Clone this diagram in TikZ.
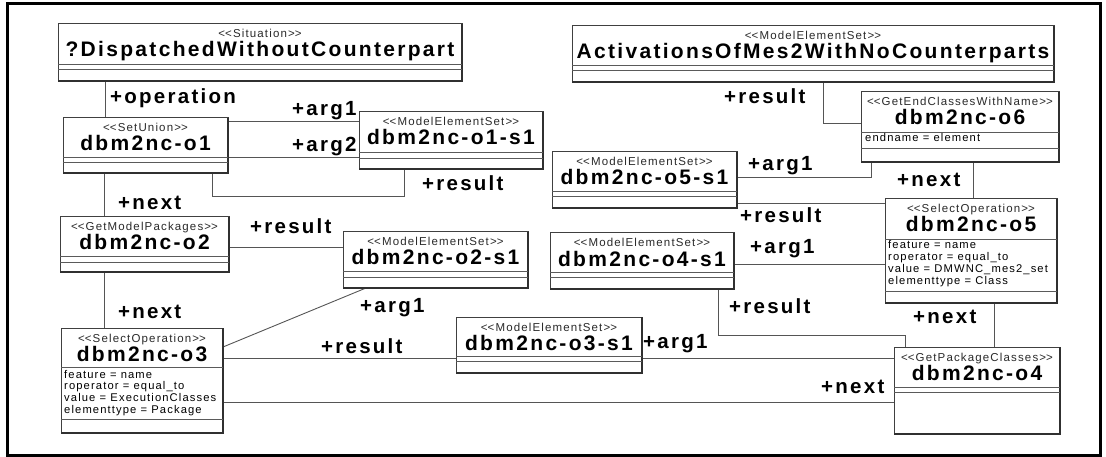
\documentclass[tikz,border=0pt]{standalone}
\usepackage{fontspec}
\setmainfont{Liberation Sans}
\newfontfamily\lsfont[LetterSpace=11]{Liberation Sans}
\newfontfamily\atfont[LetterSpace=10]{Liberation Sans}
\usetikzlibrary{calc}
\pgfdeclarelayer{background}
\pgfsetlayers{background,main}
\definecolor{boxline}{HTML}{404040}
\definecolor{shadowline}{HTML}{303030}
\definecolor{sepgray}{HTML}{5A5A5A}
\definecolor{connline}{HTML}{555555}
\definecolor{stereocol}{HTML}{2A2A2A}
\newcommand\stL{<\kern0pt<}
\newcommand\stR{>\kern0pt>}
\tikzset{
  ubox/.style={draw=boxline, line width=1pt, fill=white, inner sep=0pt, outer sep=0pt},
  ushadow/.style={draw=shadowline, line width=2pt, line join=miter},
  usepl/.style={draw=sepgray, line width=0.9pt},
  stereo/.style={font=\atfont\fontsize{11.5}{12}\selectfont, text=stereocol, inner sep=0pt},
  title/.style={font=\lsfont\bfseries\fontsize{21}{22}\selectfont, inner sep=0pt},
  attr/.style={font=\atfont\fontsize{11.2}{12}\selectfont, inner sep=0pt, anchor=base west},
  lbl/.style={font=\lsfont\bfseries\fontsize{20.5}{22}\selectfont, inner sep=0pt, anchor=base west},
  conn/.style={draw=connline, line width=0.9pt},
  frame/.style={draw=black, line width=3pt},
}
% name, x, y, w, h, stereotype, title, sep1, sep2
\newcommand\umlbox[9]{%
  \node[ubox, minimum width=#4pt, minimum height=#5pt, anchor=north west] (#1) at (#2,#3) {};
  \draw[ushadow] (#1.north east) -- (#1.south east) -- (#1.south west);
  \node[stereo, anchor=base] (#1-st) at ($(#1.north)+(0,14)$) {#6};
  \node[title, anchor=base] (#1-nm) at ($(#1.north)+(0,33)$) {#7};
  \draw[usepl] ($(#1.north west)+(0,#8)$) -- ($(#1.north east)+(0,#8)$);
  \draw[usepl] ($(#1.north west)+(0,#9)$) -- ($(#1.north east)+(0,#9)$);
}
\begin{document}
\begin{tikzpicture}[x=1pt,y=-1pt]
\useasboundingbox (0,0) rectangle (1106,457);
\draw[frame] (7,4) rectangle (1100,455);

\umlbox{sit}{58}{24}{404}{57}{\stL Situation\stR}{?DispatchedWithoutCounterpart}{40}{45}
\umlbox{act}{572}{26}{482}{56}{\stL ModelElementSet\stR}{ActivationsOfMes2WithNoCounterparts}{39}{44}
\umlbox{o1}{63}{118}{165}{55}{\stL SetUnion\stR}{dbm2nc-o1}{39}{44}
\umlbox{o1s1}{359}{112}{184}{57}{\stL ModelElementSet\stR}{dbm2nc-o1-s1}{40}{46}
\umlbox{o6}{861}{92}{198}{70}{\stL GetEndClassesWithName\stR}{dbm2nc-o6}{40}{56}
\umlbox{o5s1}{552}{152}{185}{56}{\stL ModelElementSet\stR}{dbm2nc-o5-s1}{39}{44}
\umlbox{o5}{885}{199}{172}{104}{\stL SelectOperation\stR}{dbm2nc-o5}{40}{92}
\umlbox{o2s1}{343}{232}{185}{56}{\stL ModelElementSet\stR}{dbm2nc-o2-s1}{39}{45}
\umlbox{o4s1}{550}{233}{184}{56}{\stL ModelElementSet\stR}{dbm2nc-o4-s1}{39}{44}
\umlbox{o2}{60}{217}{169}{55}{\stL GetModelPackages\stR}{dbm2nc-o2}{39}{45}
\umlbox{o3}{61}{328}{162}{105}{\stL SelectOperation\stR}{dbm2nc-o3}{39}{91}
\umlbox{o3s1}{456}{317}{186}{56}{\stL ModelElementSet\stR}{dbm2nc-o3-s1}{39}{44}
\umlbox{o4}{894}{347}{166}{87}{\stL GetPackageClasses\stR}{dbm2nc-o4}{40}{45}

% attributes
\node[attr] (o6-a1) at ($(o6.north west)+(4,50)$) {endname = element};
\node[attr] (o5-a1) at ($(o5.north west)+(3,50)$) {feature = name};
\node[attr] (o5-a2) at ($(o5.north west)+(3,61.7)$) {roperator = equal\_to};
\node[attr] (o5-a3) at ($(o5.north west)+(3,73.4)$) {value = DMWNC\_mes2\_set};
\node[attr] (o5-a4) at ($(o5.north west)+(3,85)$) {elementtype = Class};
\node[attr] (o3-a1) at ($(o3.north west)+(3,50)$) {feature = name};
\node[attr] (o3-a2) at ($(o3.north west)+(3,61.7)$) {roperator = equal\_to};
\node[attr] (o3-a3) at ($(o3.north west)+(3,73.4)$) {value = ExecutionClasses};
\node[attr] (o3-a4) at ($(o3.north west)+(3,85)$) {elementtype = Package};

% connectors
\begin{pgfonlayer}{background}
\draw[conn] (105,0 |- sit.south) -- (105,0 |- o1.north);
\draw[conn] (o1.east |- 0,121) -- (o1s1.west |- 0,121);
\draw[conn] (o1.east |- 0,157) -- (o1s1.west |- 0,157);
\draw[conn] (212,0 |- o1.south) -- (212,196) -- (404,196) -- (404,0 |- o1s1.south);
\draw[conn] (104,0 |- o1.south) -- (104,0 |- o2.north);
\draw[conn] (o2.east |- 0,247) -- (o2s1.west |- 0,247);
\draw[conn] (104,0 |- o2.south) -- (104,0 |- o3.north);
\draw[conn] (366,0 |- o2s1.south) -- (o3.east |- 0,347);
\draw[conn] (o3.east |- 0,358) -- (o3s1.west |- 0,358);
\draw[conn] (o3s1.east |- 0,358) -- (o4.west |- 0,358);
\draw[conn] (o3.east |- 0,402) -- (o4.west |- 0,402);
\draw[conn] (718,0 |- o4s1.south) -- (718,335) -- (905,335) -- (905,0 |- o4.north);
\draw[conn] (o4s1.east |- 0,264) -- (o5.west |- 0,264);
\draw[conn] (994,0 |- o5.south) -- (994,0 |- o4.north);
\draw[conn] (o5s1.east |- 0,203) -- (o5.west |- 0,203);
\draw[conn] (o5s1.east |- 0,177) -- (871,177) -- (871,0 |- o6.south);
\draw[conn] (973,0 |- o6.south) -- (973,0 |- o5.north);
\draw[conn] (823,0 |- act.south) -- (823,123) -- (o6.west |- 0,123);
\end{pgfonlayer}

% role labels
\node[lbl] (l-op) at (110,104) {+operation};
\node[lbl] (l-a1) at (292,116) {+arg1};
\node[lbl] (l-a2) at (292,152) {+arg2};
\node[lbl] (l-r1) at (422,190.5) {+result};
\node[lbl] (l-n1) at (118,210) {+next};
\node[lbl] (l-r2) at (250,234) {+result};
\node[lbl] (l-n2) at (118,318) {+next};
\node[lbl] (l-a3) at (360,312) {+arg1};
\node[lbl] (l-r3) at (321,353) {+result};
\node[lbl] (l-a4) at (643,348) {+arg1};
\node[lbl] (l-n3) at (821,393) {+next};
\node[lbl] (l-r4) at (729,313) {+result};
\node[lbl] (l-a5) at (750,254) {+arg1};
\node[lbl] (l-n4) at (913,323) {+next};
\node[lbl] (l-r5) at (740,223) {+result};
\node[lbl] (l-a6) at (748,171) {+arg1};
\node[lbl] (l-n5) at (897,187) {+next};
\node[lbl] (l-r6) at (724,104) {+result};
\end{tikzpicture}
\end{document}
